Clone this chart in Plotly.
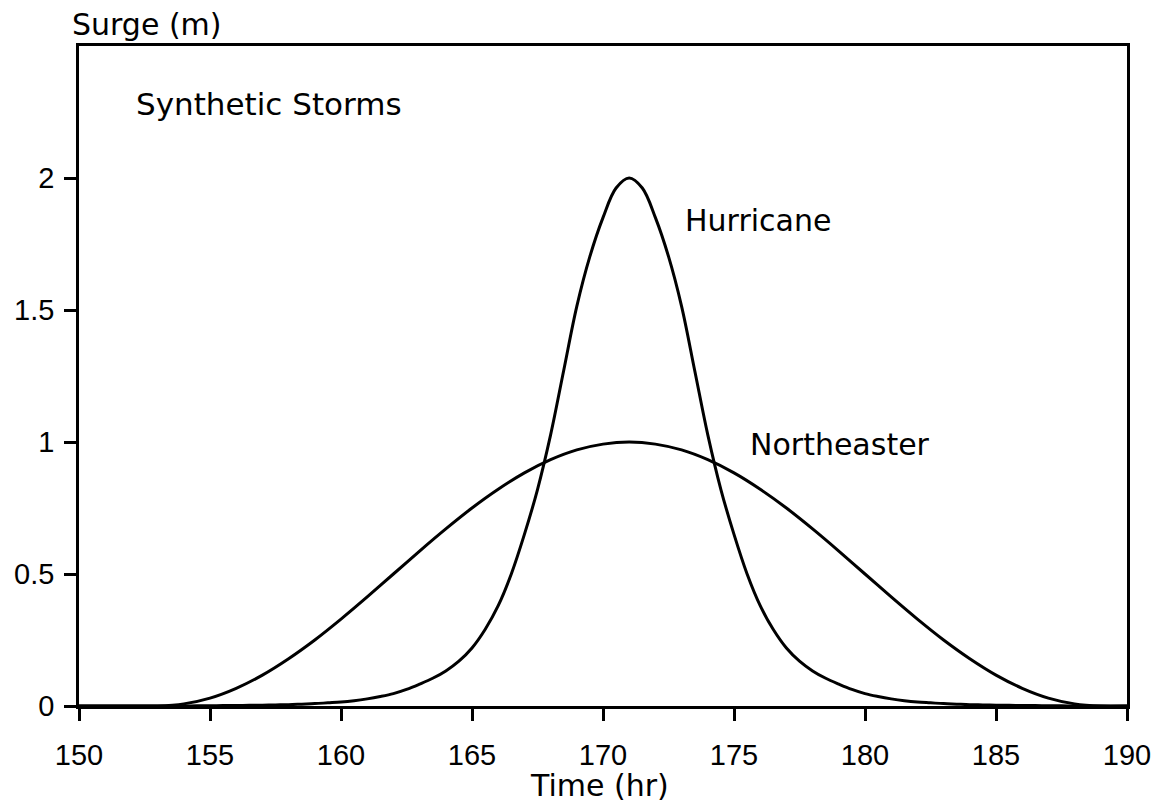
import plotly.graph_objects as go

# Hurricane surge (m), sampled every half hour from 150 to 190 hr
hurricane_hours = [150 + 0.5 * i for i in range(81)]
hurricane = [
    0.000, 0.000, 0.000, 0.000, 0.000, 0.000, 0.000, 0.000, 0.000, 0.0005,
    0.001, 0.0015, 0.002, 0.0025, 0.003, 0.004, 0.005, 0.007, 0.009, 0.012,
    0.015, 0.020, 0.027, 0.036, 0.047, 0.063, 0.083, 0.105, 0.133, 0.170,
    0.220, 0.290, 0.380, 0.500, 0.650, 0.820, 1.027, 1.271, 1.514, 1.703,
    1.850, 1.962, 2.000, 1.962, 1.850, 1.703, 1.514, 1.271, 1.027, 0.820,
    0.650, 0.500, 0.380, 0.290, 0.220, 0.170, 0.133, 0.105, 0.083, 0.063,
    0.047, 0.036, 0.027, 0.020, 0.015, 0.012, 0.009, 0.007, 0.005, 0.004,
    0.003, 0.0025, 0.002, 0.0015, 0.001, 0.0005, 0.000, 0.000, 0.000, 0.000,
    0.000,
]

# Northeaster surge (m), hourly from 150 to 190 hr
northeaster_hours = list(range(150, 191))
northeaster = [
    0.000, 0.000, 0.000, 0.000, 0.008, 0.030, 0.067, 0.117, 0.179, 0.250,
    0.329, 0.413, 0.500, 0.587, 0.671, 0.750, 0.821, 0.883, 0.933, 0.970,
    0.992, 1.000, 0.992, 0.970, 0.933, 0.883, 0.821, 0.750, 0.671, 0.587,
    0.500, 0.413, 0.329, 0.250, 0.179, 0.117, 0.067, 0.030, 0.008, 0.000,
    0.000,
]

x_ticks = [150, 155, 160, 165, 170, 175, 180, 185, 190]
y_ticks = [0, 0.5, 1, 1.5, 2]
y_tick_text = ["0", "0.5", "1", "1.5", "2"]

TEXT_FAMILY = "DejaVu Sans, Arial, sans-serif"
TICK_FONT = dict(family="Liberation Sans, Arial, sans-serif", size=29, color="black")

fig = go.Figure()
fig.add_trace(go.Scatter(
    x=hurricane_hours, y=hurricane, mode="lines", name="Hurricane",
    line=dict(color="black", width=3, shape="spline", smoothing=1.0),
    showlegend=False,
))
fig.add_trace(go.Scatter(
    x=northeaster_hours, y=northeaster, mode="lines", name="Northeaster",
    line=dict(color="black", width=3, shape="spline", smoothing=0.8),
    showlegend=False,
))

axis_common = dict(
    showgrid=False, zeroline=False, showline=True, linecolor="black",
    linewidth=2.5, mirror=True, ticks="outside", ticklen=12, tickwidth=2.5,
    tickcolor="black", tickfont=TICK_FONT, automargin=False,
)

fig.update_xaxes(range=[150, 190], tickvals=x_ticks, ticklabelstandoff=9, **axis_common)
fig.update_yaxes(range=[0, 2.5], tickvals=y_ticks, ticktext=y_tick_text,
                 ticklabelstandoff=4, **axis_common)

annotations = [
    dict(text="Surge (m)", xref="paper", yref="paper", x=-0.009, y=1.033,
         xanchor="left", yanchor="middle", size=30),
    dict(text="Time (hr)", xref="paper", yref="paper", x=0.497, y=-0.12,
         xanchor="center", yanchor="middle", size=30),
    dict(text="Synthetic Storms", xref="x", yref="y", x=152.1, y=2.28,
         xanchor="left", yanchor="middle", size=31),
    dict(text="Hurricane", xref="x", yref="y", x=173.05, y=1.84,
         xanchor="left", yanchor="middle", size=30),
    dict(text="Northeaster", xref="x", yref="y", x=175.55, y=0.99,
         xanchor="left", yanchor="middle", size=30),
]
for a in annotations:
    size = a.pop("size")
    a.update(showarrow=False, font=dict(family=TEXT_FAMILY, size=size, color="black"))

fig.update_layout(
    width=1165, height=804,
    margin=dict(l=79, r=38, t=46, b=98, autoexpand=False),
    paper_bgcolor="white", plot_bgcolor="white",
    annotations=annotations,
)

fig.write_html("out.html")
